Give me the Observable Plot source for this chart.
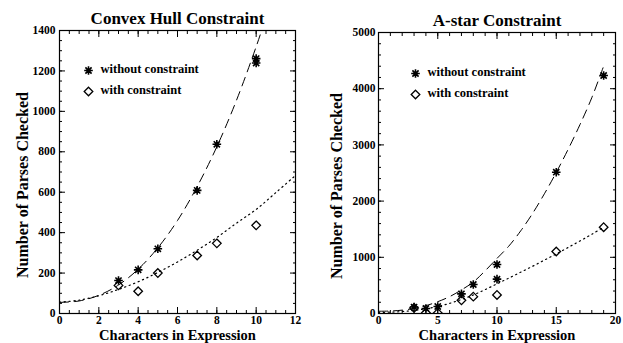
<!DOCTYPE html>
<html>
<head>
<meta charset="utf-8">
<script src="https://cdn.jsdelivr.net/npm/d3@7"></script>
<script src="https://cdn.jsdelivr.net/npm/@observablehq/plot@0.6"></script>
<style>
  html, body { margin: 0; padding: 0; background: #fff; }
  #wrap { display: flex; width: 623px; height: 343px; }
</style>
</head>
<body>
<div id="wrap"></div>
<script>
// ---------- Convex Hull Constraint (left) ----------
const hullWithoutX = [3, 4, 5, 7, 8, 10, 10];
const hullWithoutY = [163, 216, 320, 609, 837, 1239, 1261];
const hullWithX = [3, 4, 5, 7, 8, 10];
const hullWithY = [139, 110, 200, 287, 347, 436];
const hullFitWithoutX = [0, 1, 2, 3, 4, 5, 6, 7, 8, 9, 10, 10.5];
const hullFitWithoutY = [55, 62, 90, 141, 219, 325, 460, 628, 825, 1055, 1320, 1465];
const hullFitWithX = [0, 1, 2, 3, 4, 5, 6, 7, 8, 9, 10, 11, 12];
const hullFitWithY = [56, 66, 88, 119, 157, 203, 255, 313, 376, 447, 515, 598, 683];
const hullXTicks = [0, 2, 4, 6, 8, 10, 12];
const hullYTicks = [0, 200, 400, 600, 800, 1000, 1200, 1400];

// ---------- A-star Constraint (right) ----------
const astarWithoutX = [3, 4, 5, 7, 8, 10, 10, 15, 19];
const astarWithoutY = [115, 90, 125, 350, 516, 872, 611, 2514, 4235];
const astarWithX = [3, 4, 5, 7, 8, 10, 15, 19];
const astarWithY = [100, 15, 10, 235, 300, 330, 1103, 1536];
const astarFitWithoutX = [0, 1, 2, 3, 4, 5, 6, 7, 8, 9, 10, 11, 12, 13, 14, 15, 16, 17, 18, 19, 19.1];
const astarFitWithoutY = [40, 44, 60, 90, 140, 210, 300, 420, 560, 760, 980, 1200, 1470, 1780, 2130, 2510, 2920, 3360, 3840, 4400, 4450];
const astarFitWithX = [0, 1, 2, 3, 4, 5, 6, 7, 8, 9, 10, 11, 12, 13, 14, 15, 16, 17, 18, 19];
const astarFitWithY = [20, 24, 35, 55, 85, 125, 180, 250, 330, 425, 528, 630, 735, 840, 950, 1060, 1175, 1290, 1410, 1536];
const astarXTicks = [0, 5, 10, 15, 20];
const astarYTicks = [0, 1000, 2000, 3000, 4000, 5000];

const legendLabels = ["without constraint", "with constraint"];
const xLabel = "Characters in Expression";
const yLabel = "Number of Parses Checked";

const FONT = "'Liberation Serif', 'DejaVu Serif', serif";

// IDL-style asterisk (psym=2): a "+" and an "x" overlaid
const asterisk = {
  draw(ctx, size) {
    const r = Math.sqrt(size / Math.PI);
    const d = r * 0.72;
    ctx.moveTo(-r, 0); ctx.lineTo(r, 0);
    ctx.moveTo(0, -r); ctx.lineTo(0, r);
    ctx.moveTo(-d, -d); ctx.lineTo(d, d);
    ctx.moveTo(-d, d); ctx.lineTo(d, -d);
  }
};
const diamond = {
  draw(ctx, size) {
    const r = Math.sqrt(size / Math.PI);
    ctx.moveTo(0, -r); ctx.lineTo(r, 0); ctx.lineTo(0, r); ctx.lineTo(-r, 0); ctx.closePath();
  }
};

const pts = (xs, ys) => xs.map((x, i) => ({x, y: ys[i]}));
const plain = d => String(d);

function panel(cfg) {
  const without = pts(cfg.wx, cfg.wy);
  const withc = pts(cfg.cx, cfg.cy);
  const fitW = pts(cfg.fwx, cfg.fwy);
  const fitC = pts(cfg.fcx, cfg.fcy);
  return Plot.plot({
    width: cfg.width,
    height: 343,
    marginLeft: cfg.ml,
    marginRight: cfg.mr,
    marginTop: cfg.mt,
    marginBottom: 30,
    style: {fontFamily: FONT, fontWeight: "bold", fontSize: "11px", color: "black", background: "white", overflow: "visible"},
    x: {domain: cfg.xdom, axis: null},
    y: {domain: cfg.ydom, axis: null},
    marks: [
      // fit curves
      Plot.line(fitW, {x: "x", y: "y", curve: "catmull-rom", stroke: "black", strokeWidth: 1, strokeDasharray: "9,6", clip: true}),
      Plot.line(fitC, {x: "x", y: "y", curve: "catmull-rom", stroke: "black", strokeWidth: 1.2, strokeDasharray: "1.2,3.6", clip: true}),
      // data points
      Plot.dot(without, {x: "x", y: "y", symbol: asterisk, r: 4.3, stroke: "black", strokeWidth: 1.6, fill: "none", clip: true}),
      Plot.dot(withc, {x: "x", y: "y", symbol: diamond, r: 4.3, stroke: "black", strokeWidth: 1.3, fill: "none", clip: true}),
      // major / minor ticks, inward on all four sides
      Plot.axisX({anchor: "bottom", ticks: cfg.xticks, tickSize: -6, fill: "none", strokeWidth: 1}),
      Plot.axisX({anchor: "top", ticks: cfg.xticks, tickSize: -6, fill: "none", strokeWidth: 1}),
      Plot.axisX({anchor: "bottom", ticks: cfg.xminor, tickSize: -3, fill: "none", strokeWidth: 1}),
      Plot.axisX({anchor: "top", ticks: cfg.xminor, tickSize: -3, fill: "none", strokeWidth: 1}),
      Plot.axisY({anchor: "left", ticks: cfg.yticks, tickSize: -6, fill: "none", strokeWidth: 1}),
      Plot.axisY({anchor: "right", ticks: cfg.yticks, tickSize: -6, fill: "none", strokeWidth: 1}),
      Plot.axisY({anchor: "left", ticks: cfg.yminor, tickSize: -3, fill: "none", strokeWidth: 1}),
      Plot.axisY({anchor: "right", ticks: cfg.yminor, tickSize: -3, fill: "none", strokeWidth: 1}),
      // tick labels
      Plot.axisX({anchor: "bottom", ticks: cfg.xticks, tickFormat: plain, tickSize: 0, tickPadding: 2, label: null, fontSize: 11.5}),
      Plot.axisY({anchor: "left", ticks: cfg.yticks, tickFormat: plain, tickSize: 0, tickPadding: cfg.ypad, label: null, fontSize: 11.5}),
      Plot.frame({stroke: "black", strokeWidth: 1.2}),
      // title and axis labels
      Plot.text([cfg.title], {text: d => d, frameAnchor: "top", lineAnchor: "middle", dy: -12, fontSize: 17, fontWeight: "bold"}),
      Plot.text([xLabel], {text: d => d, frameAnchor: "bottom", lineAnchor: "middle", dy: 22, fontSize: 14.5, fontWeight: "bold"}),
      Plot.text([yLabel], {text: d => d, frameAnchor: "left", textAnchor: "middle", lineAnchor: "middle", rotate: -90, dx: cfg.ylabDx, dy: 13, fontSize: 16, fontWeight: "bold"}),
      // legend
      Plot.dot([0], {frameAnchor: "top-left", dx: cfg.lgx, dy: cfg.lgy, symbol: asterisk, r: 4.3, stroke: "black", strokeWidth: 1.6, fill: "none"}),
      Plot.dot([0], {frameAnchor: "top-left", dx: cfg.lgx, dy: cfg.lgy + 21, symbol: diamond, r: 4.3, stroke: "black", strokeWidth: 1.3, fill: "none"}),
      Plot.text([legendLabels[0]], {text: d => d, frameAnchor: "top-left", lineAnchor: "middle", dx: cfg.lgx + 12, dy: cfg.lgy - 2, textAnchor: "start", fontSize: 12.5, fontWeight: "bold"}),
      Plot.text([legendLabels[1]], {text: d => d, frameAnchor: "top-left", lineAnchor: "middle", dx: cfg.lgx + 12, dy: cfg.lgy + 19, textAnchor: "start", fontSize: 12.5, fontWeight: "bold"})
    ]
  });
}

const wrap = document.getElementById("wrap");
wrap.appendChild(panel({
  title: "Convex Hull Constraint",
  width: 311, ml: 59, mr: 16, mt: 30,
  xdom: [0, 12], ydom: [0, 1400],
  xticks: hullXTicks, xminor: d3.range(0, 12.001, 0.5),
  yticks: hullYTicks, yminor: d3.range(0, 1400.1, 50),
  wx: hullWithoutX, wy: hullWithoutY, cx: hullWithX, cy: hullWithY,
  fwx: hullFitWithoutX, fwy: hullFitWithoutY, fcx: hullFitWithX, fcy: hullFitWithY,
  ypad: 4, ylabDx: -37, lgx: 29, lgy: 40
}));
wrap.appendChild(panel({
  title: "A-star Constraint",
  width: 312, ml: 67, mr: 8, mt: 32,
  xdom: [0, 20], ydom: [0, 5000],
  xticks: astarXTicks, xminor: d3.range(0, 20.001, 1),
  yticks: astarYTicks, yminor: d3.range(0, 5000.1, 200),
  wx: astarWithoutX, wy: astarWithoutY, cx: astarWithX, cy: astarWithY,
  fwx: astarFitWithoutX, fwy: astarFitWithoutY, fcx: astarFitWithX, fcy: astarFitWithY,
  ypad: 3, ylabDx: -42, lgx: 37, lgy: 41
}));
</script>
</body>
</html>
